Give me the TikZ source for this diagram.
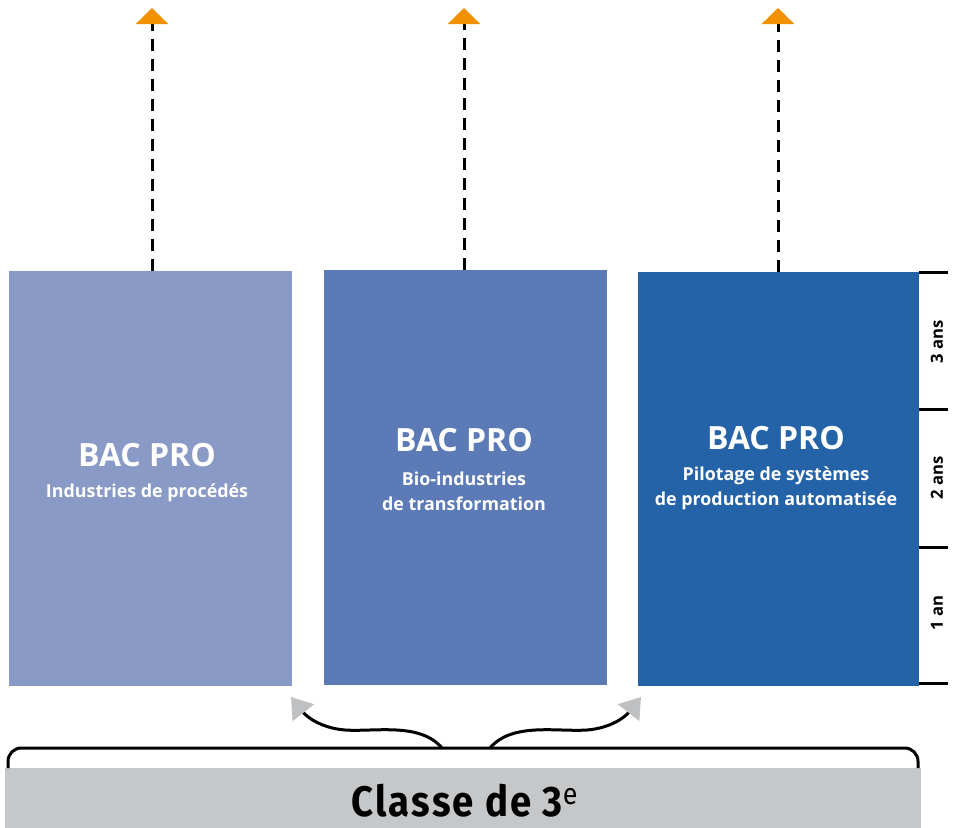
\documentclass[tikz,border=0pt]{standalone}
\usepackage{fontspec}
\setsansfont{Open Sans}
\newfontfamily\classefont[FakeStretch=0.9,LetterSpace=5]{Fira Sans}
\usetikzlibrary{arrows.meta}
\definecolor{bleuclair}{HTML}{8A9AC7}
\definecolor{bleumoyen}{HTML}{5B7AB6}
\definecolor{bleufonce}{HTML}{2563A8}
\definecolor{grisbarre}{HTML}{C6C7C9}
\definecolor{grisfleche}{HTML}{BFC0C2}
\definecolor{orangefleche}{HTML}{F39200}

\begin{document}
\begin{tikzpicture}[x=0.75pt,y=-0.75pt,line width=2.25pt]
      \tikzstyle{every node}=[inner sep=0pt,outer sep=0pt];
      \tikzstyle{bacbox}=[minimum width=212.25pt,minimum height=311.25pt];
      \tikzstyle{titre}=[text=white,font=\sffamily\bfseries\fontsize{24}{27}\selectfont];
      \tikzstyle{specialite}=[text=white,align=center,font=\sffamily\bfseries\fontsize{13.4}{19}\selectfont];
      \tikzstyle{duree}=[rotate=90,font=\sffamily\bfseries\fontsize{12.5}{14}\selectfont];
      \tikzstyle{suite}=[dash pattern=on 9pt off 6pt,-{Triangle[length=12pt,width=24pt,color=orangefleche]}];
      \tikzstyle{fleche}=[-{Triangle[length=15pt,width=20pt,color=grisfleche]}];
      \useasboundingbox (0,0) rectangle (953,828);

        % les trois bac pro
        \path[fill] (150.5,478.5) node[bacbox,fill=bleuclair] (ip) {};
        \path[fill] (465.5,477.5) node[bacbox,fill=bleumoyen] (bio) {};
        \path[fill] (778.5,479) node[bacbox,fill=bleufonce,minimum width=210.75pt,minimum height=310.5pt] (psp) {};

        \path (147,466) node[titre,anchor=base] (ip-t) {BAC PRO};
        \path (147,493) node[specialite] (ip-s) {Industries de procédés};
        \path (464,451) node[titre,anchor=base] (bio-t) {BAC PRO};
        \path (464,491.5) node[specialite] (bio-s) {Bio-industries\\de transformation};
        \path (776,449) node[titre,anchor=base] (psp-t) {BAC PRO};
        \path (776,488.5) node[specialite] (psp-s) {Pilotage de systèmes\\de production automatisée};

        % poursuite d'etudes
        \coordinate (ip-up) at (152,8);
        \coordinate (bio-up) at (464,8);
        \coordinate (psp-up) at (778,8);
        \path[draw,suite] (ip.north -| ip-up) -- (ip-up);
        \path[draw,suite] (bio.north -| bio-up) -- (bio-up);
        \path[draw,suite] (psp.north -| psp-up) -- (psp-up);

        % echelle des annees
        \coordinate (g3) at (919,272);
        \coordinate (g2) at (919,409);
        \coordinate (g1) at (919,547);
        \coordinate (g0) at (919,683);
        \path[draw] (g3) -- ++(29,0);
        \path[draw] (g2) -- ++(29,0);
        \path[draw] (g1) -- ++(29,0);
        \path[draw] (g0) -- ++(29,0);
        \path (937,342) node[duree] (an3) {3 ans};
        \path (937,478) node[duree] (an2) {2 ans};
        \path (937,613) node[duree] (an1) {1 an};

        % classe de 3e
        \path[fill] (463,798) node[fill=grisbarre,minimum width=687pt,minimum height=45pt] (classe) {};
        \path (465,801) node[font=\classefont\bfseries\fontsize{32}{36}\selectfont] (classe-t) {Classe de 3\textsuperscript{\mdseries e}};
        \path[draw,rounded corners=10pt] (8,768) |- (463,748) -| (918,768);

        \coordinate (bl) at (442,748);
        \coordinate (br) at (490,748);
        \coordinate (ip-in) at (291,697);
        \coordinate (psp-in) at (641,697);
        \path[draw,fleche] (bl) .. controls (420,722) and (375,732) .. (345,730) .. controls (320,728) and (306,716) .. (ip-in);
        \path[draw,fleche] (br) .. controls (512,722) and (557,732) .. (587,730) .. controls (612,728) and (626,716) .. (psp-in);
    \end{tikzpicture}
\end{document}
